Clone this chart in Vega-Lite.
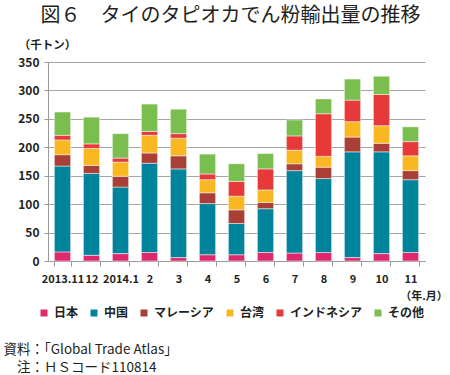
{
  "$schema": "https://vega.github.io/schema/vega-lite/v6.json",
  "width": 377,
  "height": 199,
  "autosize": {"type": "none"},
  "padding": {"left": 48, "top": 62, "right": 25, "bottom": 114},
  "background": "white",
  "config": {"font": "Noto Sans CJK JP", "view": {"stroke": null}},
  "title": {
    "text": "図６　タイのタピオカでん粉輸出量の推移",
    "fontSize": 20,
    "fontWeight": "normal",
    "color": "#231f20",
    "anchor": "middle",
    "frame": "group",
    "dx": -6,
    "dy": -9
  },
  "data": {
    "values": [
      {"month": "2013.11", "country": "日本", "value": 16},
      {"month": "2013.11", "country": "中国", "value": 151},
      {"month": "2013.11", "country": "マレーシア", "value": 20},
      {"month": "2013.11", "country": "台湾", "value": 26},
      {"month": "2013.11", "country": "インドネシア", "value": 8},
      {"month": "2013.11", "country": "その他", "value": 41},
      {"month": "12", "country": "日本", "value": 10},
      {"month": "12", "country": "中国", "value": 144},
      {"month": "12", "country": "マレーシア", "value": 14},
      {"month": "12", "country": "台湾", "value": 30},
      {"month": "12", "country": "インドネシア", "value": 8},
      {"month": "12", "country": "その他", "value": 47},
      {"month": "2014.1", "country": "日本", "value": 13},
      {"month": "2014.1", "country": "中国", "value": 117},
      {"month": "2014.1", "country": "マレーシア", "value": 19},
      {"month": "2014.1", "country": "台湾", "value": 25},
      {"month": "2014.1", "country": "インドネシア", "value": 7},
      {"month": "2014.1", "country": "その他", "value": 43},
      {"month": "2", "country": "日本", "value": 15},
      {"month": "2", "country": "中国", "value": 157},
      {"month": "2", "country": "マレーシア", "value": 18},
      {"month": "2", "country": "台湾", "value": 31},
      {"month": "2", "country": "インドネシア", "value": 7},
      {"month": "2", "country": "その他", "value": 48},
      {"month": "3", "country": "日本", "value": 6},
      {"month": "3", "country": "中国", "value": 156},
      {"month": "3", "country": "マレーシア", "value": 23},
      {"month": "3", "country": "台湾", "value": 31},
      {"month": "3", "country": "インドネシア", "value": 8},
      {"month": "3", "country": "その他", "value": 43},
      {"month": "4", "country": "日本", "value": 11},
      {"month": "4", "country": "中国", "value": 90},
      {"month": "4", "country": "マレーシア", "value": 19},
      {"month": "4", "country": "台湾", "value": 23},
      {"month": "4", "country": "インドネシア", "value": 10},
      {"month": "4", "country": "その他", "value": 35},
      {"month": "5", "country": "日本", "value": 11},
      {"month": "5", "country": "中国", "value": 55},
      {"month": "5", "country": "マレーシア", "value": 24},
      {"month": "5", "country": "台湾", "value": 24},
      {"month": "5", "country": "インドネシア", "value": 26},
      {"month": "5", "country": "その他", "value": 31},
      {"month": "6", "country": "日本", "value": 15},
      {"month": "6", "country": "中国", "value": 77},
      {"month": "6", "country": "マレーシア", "value": 11},
      {"month": "6", "country": "台湾", "value": 22},
      {"month": "6", "country": "インドネシア", "value": 37},
      {"month": "6", "country": "その他", "value": 27},
      {"month": "7", "country": "日本", "value": 14},
      {"month": "7", "country": "中国", "value": 145},
      {"month": "7", "country": "マレーシア", "value": 12},
      {"month": "7", "country": "台湾", "value": 24},
      {"month": "7", "country": "インドネシア", "value": 25},
      {"month": "7", "country": "その他", "value": 28},
      {"month": "8", "country": "日本", "value": 15},
      {"month": "8", "country": "中国", "value": 130},
      {"month": "8", "country": "マレーシア", "value": 20},
      {"month": "8", "country": "台湾", "value": 19},
      {"month": "8", "country": "インドネシア", "value": 75},
      {"month": "8", "country": "その他", "value": 26},
      {"month": "9", "country": "日本", "value": 6},
      {"month": "9", "country": "中国", "value": 186},
      {"month": "9", "country": "マレーシア", "value": 26},
      {"month": "9", "country": "台湾", "value": 27},
      {"month": "9", "country": "インドネシア", "value": 38},
      {"month": "9", "country": "その他", "value": 37},
      {"month": "10", "country": "日本", "value": 13},
      {"month": "10", "country": "中国", "value": 179},
      {"month": "10", "country": "マレーシア", "value": 15},
      {"month": "10", "country": "台湾", "value": 31},
      {"month": "10", "country": "インドネシア", "value": 55},
      {"month": "10", "country": "その他", "value": 32},
      {"month": "11", "country": "日本", "value": 15},
      {"month": "11", "country": "中国", "value": 128},
      {"month": "11", "country": "マレーシア", "value": 16},
      {"month": "11", "country": "台湾", "value": 26},
      {"month": "11", "country": "インドネシア", "value": 25},
      {"month": "11", "country": "その他", "value": 26}
    ]
  },
  "transform": [
    {"calculate": "indexof(['日本','中国','マレーシア','台湾','インドネシア','その他'], datum.country)", "as": "k"}
  ],
  "mark": {"type": "bar", "stroke": "white", "strokeWidth": 0.6, "strokeOpacity": 0.8},
  "encoding": {
    "x": {
      "field": "month",
      "type": "nominal",
      "sort": null,
      "scale": {"paddingInner": 0.44, "paddingOuter": 0.22},
      "axis": {
        "labelAngle": 0,
        "labelFontSize": 11,
        "labelFontWeight": "bold",
        "labelColor": "#231f20",
        "labelPadding": 7,
        "tickSize": 5,
        "tickColor": "#999999",
        "domainColor": "#999999",
        "tickBand": "extent",
        "grid": false,
        "title": ["資料：「Global Trade Atlas」", "\u200b\u3000注：ＨＳコード110814"],
        "titleFontSize": 13.5,
        "titleFontWeight": "normal",
        "titleColor": "#231f20",
        "titleAlign": "left",
        "titleAnchor": "start",
        "titleBaseline": "top",
        "titleX": -45,
        "titleY": 81,
        "titleLineHeight": 18.5
      }
    },
    "y": {
      "field": "value",
      "type": "quantitative",
      "scale": {"domain": [0, 350]},
      "axis": {
        "values": [0, 50, 100, 150, 200, 250, 300, 350],
        "labelFontSize": 12,
        "labelFontWeight": "bold",
        "labelColor": "#231f20",
        "labelPadding": 5,
        "tickSize": 4,
        "tickColor": "#999999",
        "domainColor": "#999999",
        "gridColor": "#a6a6a6",
        "title": "（千トン）",
        "titleAngle": 0,
        "titleAlign": "center",
        "titleBaseline": "middle",
        "titleX": -1,
        "titleY": -17,
        "titleFontSize": 11.5,
        "titleFontWeight": "bold",
        "titleColor": "#231f20"
      }
    },
    "color": {
      "field": "country",
      "type": "nominal",
      "scale": {
        "domain": ["日本", "中国", "マレーシア", "台湾", "インドネシア", "その他"],
        "range": ["#e0286e", "#00849b", "#a93f36", "#f9b822", "#e8393a", "#79be4f"]
      },
      "legend": {
        "orient": "none",
        "legendX": -10,
        "legendY": 229,
        "direction": "horizontal",
        "title": "（年.月）",
        "titleOrient": "top",
        "titleAnchor": "end",
        "titleAlign": "center",
        "titleFontSize": 11,
        "titleFontWeight": "bold",
        "titleColor": "#231f20",
        "titlePadding": 5,
        "symbolType": "square",
        "symbolSize": 49,
        "symbolStrokeWidth": 0,
        "labelFontSize": 12,
        "labelFontWeight": "bold",
        "labelColor": "#231f20",
        "labelOffset": 4,
        "columnPadding": 9,
        "padding": 0
      }
    },
    "order": {"field": "k", "type": "quantitative"}
  }
}
